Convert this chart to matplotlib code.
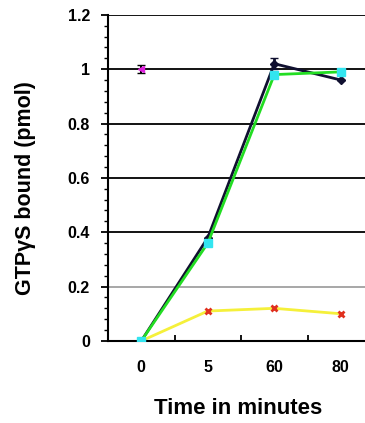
import numpy as np
import matplotlib
matplotlib.use('Agg')
import matplotlib.pyplot as plt
from matplotlib.ticker import MultipleLocator

# data
times = ['0', '5', '60', '80']
black_vals = [0.0, 0.38, 1.02, 0.96]
black_err = [0.0, 0.0, 0.02, 0.0]
green_vals = [0.0, 0.36, 0.98, 0.99]
yellow_vals = [0.0, 0.11, 0.12, 0.10]
magenta_val = 1.0
magenta_err = 0.015

plt.rcParams['font.family'] = ['Liberation Sans', 'DejaVu Sans']
plt.rcParams['font.weight'] = 'bold'

fig = plt.figure(figsize=(3.65, 4.23), dpi=100)
ax = fig.add_axes([0.296, 0.194, 0.729, 0.771])

x = np.arange(len(times)) + 0.5

# grid lines
for g in [0.4, 0.6, 0.8, 1.0, 1.2]:
    ax.axhline(g, color='black', lw=1.3, zorder=1)
ax.axhline(0.2, color='#a0a0a0', lw=1.3, zorder=1)

ax.plot(x, yellow_vals, color='#f5f03a', lw=2, zorder=2)
ax.plot(x[1:], yellow_vals[1:], ls='none', marker='x', color='#e0301e',
        ms=5, mew=2, zorder=5)

ax.errorbar(x, black_vals, yerr=black_err, color='#101030', lw=2,
            marker='D', ms=4, capsize=3, zorder=3)
ax.plot(x, green_vals, color='#22dd22', lw=2, zorder=4)
ax.plot(x, green_vals, ls='none', marker='s', color='#33e5f0', ms=6, zorder=6)

ax.errorbar([x[0]], [magenta_val], yerr=magenta_err, color='#e020e0',
            marker='<', ms=5, capsize=3, ecolor='black', elinewidth=1.5, zorder=6)

ax.set_xlim(0, len(times))
ax.set_ylim(0, 1.2)
ax.set_xticks(np.arange(1, len(times)))
ax.set_xticklabels([])
ax.set_xticks(x, minor=True)
ax.set_xticklabels(times, minor=True)
ax.tick_params(axis='x', which='minor', length=0, pad=14, labelsize=11.5)
ax.tick_params(axis='x', which='major', length=4, direction='in', width=1.3)
ax.set_yticks([0, 0.2, 0.4, 0.6, 0.8, 1.0, 1.2])
ax.set_yticklabels(['0', '0.2', '0.4', '0.6', '0.8', '1', '1.2'])
ax.yaxis.set_minor_locator(MultipleLocator(0.04))
ax.tick_params(axis='y', which='major', length=5, width=1.3, labelsize=11.5, pad=8)
ax.tick_params(axis='y', which='minor', length=3, width=1.0)

for s in ['top', 'right']:
    ax.spines[s].set_visible(False)
ax.spines['left'].set_linewidth(1.5)
ax.spines['bottom'].set_linewidth(1.5)

ax.set_ylabel('GTPγS bound (pmol)', fontsize=15.5, fontweight='bold')
ax.yaxis.set_label_coords(-0.27, 0.47)
ax.set_xlabel('Time in minutes', fontsize=16, fontweight='bold')
ax.xaxis.set_label_coords(0.49, -0.175)

fig.savefig('out.png', dpi=100)
